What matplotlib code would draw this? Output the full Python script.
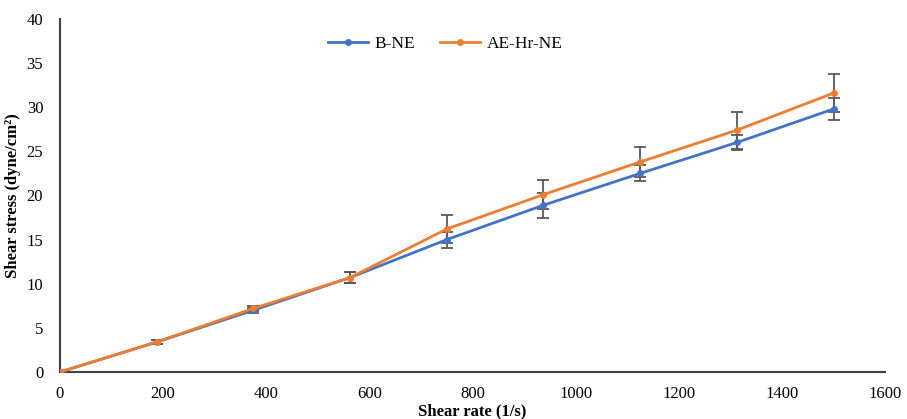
import numpy as np
import matplotlib.pyplot as plt

plt.rcParams['font.family'] = ['Liberation Serif', 'DejaVu Serif']

shear_rate = [0, 187.5, 375, 562.5, 750, 937.5, 1125, 1312.5, 1500]
b_ne = [0, 3.4, 7.0, 10.7, 15.0, 18.9, 22.5, 26.0, 29.8]
b_ne_err = [0, 0.2, 0.3, 0.6, 0.9, 1.4, 0.9, 0.9, 1.2]
ae_ne = [0, 3.4, 7.2, 10.7, 16.2, 20.1, 23.8, 27.4, 31.6]
ae_ne_err = [0, 0.2, 0.3, 0.6, 1.6, 1.6, 1.7, 2.1, 2.1]

fig = plt.figure(figsize=(9.07, 4.19), dpi=100)
ax = fig.add_axes([0.066, 0.112, 0.91, 0.843])

blue = '#4472C4'
orange = '#ED7D31'

ax.errorbar(shear_rate, b_ne, yerr=b_ne_err, color=blue, marker='o', markersize=4,
            linewidth=2, ecolor='#595959', elinewidth=1.3, capsize=4, capthick=1.3,
            label='B-NE', zorder=3)
ax.errorbar(shear_rate, ae_ne, yerr=ae_ne_err, color=orange, marker='o', markersize=4,
            linewidth=2, ecolor='#595959', elinewidth=1.3, capsize=4, capthick=1.3,
            label='AE-Hr-NE', zorder=3)

ax.set_xlim(0, 1600)
ax.set_ylim(0, 40)
ax.set_xticks(np.arange(0, 1601, 200))
ax.set_yticks(np.arange(0, 41, 5))
ax.tick_params(axis='x', length=0, labelsize=12, pad=10)
ax.tick_params(axis='y', length=0, labelsize=12, pad=12)
ax.spines['top'].set_visible(False)
ax.spines['right'].set_visible(False)
ax.spines['left'].set_color('#404040')
ax.spines['bottom'].set_color('#404040')
ax.spines['left'].set_linewidth(1.5)
ax.spines['bottom'].set_linewidth(1.5)

ax.set_xlabel('Shear rate (1/s)', fontsize=12, fontweight='bold', labelpad=1)
ax.set_ylabel('Shear stress (dyne/cm²)', fontsize=12, fontweight='bold', labelpad=4)

handles, labels = ax.get_legend_handles_labels()
handles = [h[0] for h in handles]
ax.legend(handles, labels, loc='center', bbox_to_anchor=(0.467, 0.93), ncol=2,
          frameon=False, fontsize=12.5, handlelength=2.3, handletextpad=0.4,
          columnspacing=1.4)

plt.savefig('out.png')
